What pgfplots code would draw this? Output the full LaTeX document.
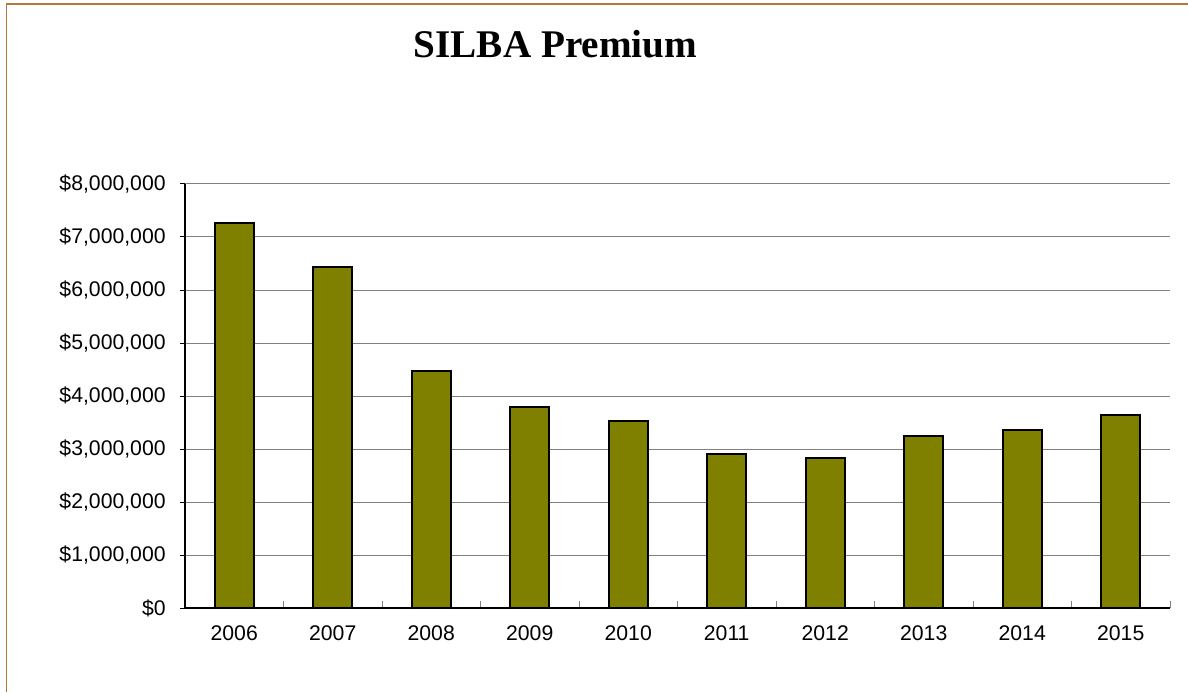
\documentclass[border=0pt]{standalone}
\usepackage{pgfplots}
\pgfplotsset{compat=1.18}
\usepackage{fontspec}
\setmainfont{Liberation Sans}
\newfontfamily\titlefont{Liberation Serif}
\definecolor{barolive}{RGB}{128,128,0}
\definecolor{frame}{RGB}{184,118,60}
\definecolor{gridgray}{RGB}{128,128,128}
\begin{document}
\begin{tikzpicture}
\path[use as bounding box] (0,0) rectangle (594pt,346pt);
\draw[frame, line width=0.8pt] (3.3pt,0) -- (3.3pt,343.9pt) -- (594pt,343.9pt);
\node[anchor=base, font=\titlefont\bfseries\fontsize{19.6pt}{22pt}\selectfont] at (277.75pt,317.2pt) {SILBA Premium};
\begin{axis}[
  at={(92.5pt,42pt)}, anchor=south west,
  scale only axis,
  width=492.5pt, height=212pt,
  xmin=-0.5, xmax=9.5,
  ymin=0, ymax=8000000,
  axis lines*=left,
  axis line style={black, line width=0.6pt},
  ybar, bar width=19.5pt,
  xtick={0,1,2,3,4,5,6,7,8,9},
  xticklabels={2006,2007,2008,2009,2010,2011,2012,2013,2014,2015},
  major x tick style={draw=none},
  minor xtick={-0.5,0.5,1.5,2.5,3.5,4.5,5.5,6.5,7.5,8.5,9.5},
  minor x tick style={gridgray, line width=0.5pt},
  minor tick length=3.3pt,
  xtick align=inside,
  x tick label style={anchor=base, yshift=-16pt},
  scaled y ticks=false,
  ytick={0,1000000,2000000,3000000,4000000,5000000,6000000,7000000,8000000},
  yticklabels={\$0,{\$1,000,000},{\$2,000,000},{\$3,000,000},{\$4,000,000},{\$5,000,000},{\$6,000,000},{\$7,000,000},{\$8,000,000}},
  ytick align=outside,
  major tick length=2.5pt,
  major y tick style={black, line width=0.5pt},
  y tick label style={anchor=east, inner sep=0pt, xshift=-7pt},
  ymajorgrids,
  major grid style={gridgray, line width=0.5pt},
  tick label style={font=\fontsize{10.6pt}{12pt}\selectfont},
  /pgf/number format/assume math mode=true,
  clip=false,
]
\addplot[fill=barolive, draw=black, line width=1pt] coordinates {
(0,7260000) (1,6440000) (2,4470000) (3,3790000) (4,3530000)
(5,2910000) (6,2830000) (7,3250000) (8,3360000) (9,3640000)
};
\end{axis}
\end{tikzpicture}
\end{document}
